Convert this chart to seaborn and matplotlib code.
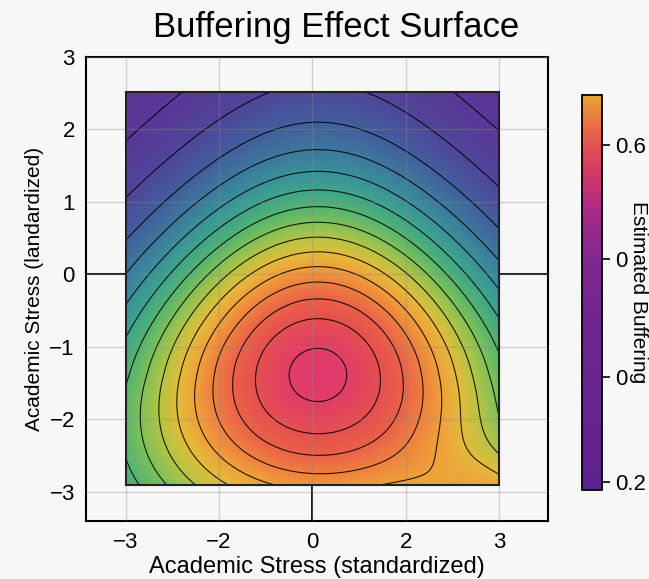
import numpy as np
import seaborn as sns
import matplotlib
matplotlib.use("Agg")
from matplotlib import pyplot as plt
from matplotlib.colors import LinearSegmentedColormap, Normalize
from matplotlib.patches import Rectangle
from matplotlib.cm import ScalarMappable

# tick positions / labels (x axis is evenly spaced, labels are not)
x_tick_pos = [-3, -1.5, 0, 1.5, 3]
x_tick_labels = ["\u22123", "\u22122", "0", "2", "3"]
y_ticks = [-3, -2, -1, 0, 1, 2, 3]
y_tick_labels = ["\u22123", "\u22122", "\u22121", "0", "1", "2", "3"]

# colorbar as printed on the chart
cbar_range = [0.19, 0.66]
cbar_ticks = [0.2, 0.325, 0.465, 0.6]
cbar_tick_labels = ["0.2", "0", "0", "0.6"]

# where the surface sits
surf_x = [-3.0, 3.0]
surf_y = [-2.9, 2.52]

# surface shape
peak_x, peak_y = 0.09, -1.37
spread_x = 2.3
spread_x_top_shrink = 0.25
spread_x_bottom_grow = 0.3
spread_y_up, spread_y_down = 1.75, 1.9
shoulder_x, shoulder_y = 3.2, -3.2
shoulder_h = 0.3
shoulder_sx, shoulder_sy = 0.97, 0.5

levels = [0.005, 0.022, 0.072, 0.14, 0.21, 0.28, 0.35, 0.42, 0.49,
          0.56, 0.63, 0.70, 0.77, 0.84, 0.91, 0.98]

surf_colors = ["#5d3396", "#4f479a", "#42609c", "#3d7a9c", "#3a929a", "#3fa58a",
               "#55b470", "#80c058", "#b5c445", "#e2bb3c", "#f0a03a", "#ee8040",
               "#ea6248", "#e6504f", "#df3a6c"]
surf_stops = [0.0, 0.07, 0.14, 0.21, 0.28, 0.35, 0.42, 0.49, 0.56, 0.63, 0.70,
              0.77, 0.84, 0.91, 1.0]
cbar_colors = ["#5e2390", "#6e2590", "#82278f", "#a52a88", "#cc3470", "#e04858",
               "#ea6a45", "#e9a534"]
cbar_stops = [0.0, 0.4, 0.58, 0.7, 0.78, 0.85, 0.92, 1.0]


def surface(u, v):
    du = u - peak_x
    dv = v - peak_y
    sx = np.where(dv > 0, spread_x - spread_x_top_shrink * dv,
                  spread_x - spread_x_bottom_grow * dv)
    sy = np.where(dv > 0, spread_y_up, spread_y_down)
    g = np.exp(-du ** 2 / (2 * sx ** 2) - dv ** 2 / (2 * sy ** 2))
    s = shoulder_h * np.exp(-(u - shoulder_x) ** 2 / (2 * shoulder_sx ** 2)
                            - (v - shoulder_y) ** 2 / (2 * shoulder_sy ** 2))
    return g + s


sns.set_theme(style="whitegrid")
plt.rcParams['font.family'] = ['Liberation Sans', 'DejaVu Sans']
plt.rcParams['axes.unicode_minus'] = True
plt.rcParams['text.color'] = 'black'
plt.rcParams['axes.labelcolor'] = 'black'
plt.rcParams['xtick.color'] = 'black'
plt.rcParams['ytick.color'] = 'black'

fig = plt.figure(figsize=(6.49, 5.79), dpi=100, facecolor="#f7f7f7")
ax = fig.add_axes([0.1325, 0.1002, 0.7119, 0.8014])
ax.set_facecolor("#f7f7f7")

surf_cmap = LinearSegmentedColormap.from_list("surf", list(zip(surf_stops, surf_colors)))
bar_cmap = LinearSegmentedColormap.from_list("bar", list(zip(cbar_stops, cbar_colors)))

U, V = np.meshgrid(np.linspace(surf_x[0], surf_x[1], 300),
                   np.linspace(surf_y[0], surf_y[1], 300))
Z = surface(U, V)

ax.axhline(0, color="black", lw=1.3, zorder=0.5)
ax.vlines(0, -3.4, surf_y[0], color="black", lw=1.3, zorder=0.5)
ax.imshow(Z, extent=[surf_x[0], surf_x[1], surf_y[0], surf_y[1]], origin="lower",
          cmap=surf_cmap, vmin=0, vmax=1, aspect="auto", interpolation="bilinear", zorder=1)
ax.contour(U, V, Z, levels=levels, colors="black", linewidths=0.8, alpha=0.85, zorder=2)
ax.add_patch(Rectangle((surf_x[0], surf_y[0]), surf_x[1] - surf_x[0], surf_y[1] - surf_y[0],
                       fill=False, edgecolor="#222222", lw=1.5, zorder=3))

ax.set_axisbelow(False)
ax.grid(True, color="#888888", alpha=0.35, lw=1.0)
ax.set_xlim(-3.64, 3.79)
ax.set_ylim(-3.4, 3)
ax.set_xticks(x_tick_pos, x_tick_labels, fontsize=16)
ax.set_yticks(y_ticks, y_tick_labels, fontsize=16)
ax.tick_params(length=0, pad=8, colors="black")
for sp in ax.spines.values():
    sp.set_color("black")
    sp.set_linewidth(1.5)

ax.set_xlabel("Academic Stress (standardized)", fontsize=17, labelpad=2)
ax.set_ylabel("Academic Stress (landardized)", fontsize=15, labelpad=4)
fig.text(0.518, 0.952, "Buffering Effect Surface", fontsize=25, ha="center", va="center")

cax = fig.add_axes([0.8968, 0.1537, 0.0308, 0.6823])
cb = fig.colorbar(ScalarMappable(norm=Normalize(*cbar_range), cmap=bar_cmap), cax=cax)
cb.set_ticks(cbar_ticks, labels=cbar_tick_labels)
cb.ax.tick_params(labelsize=16, length=6, width=1.2, color="black")
cb.outline.set_edgecolor("black")
cb.outline.set_linewidth(1.3)
cb.set_label("Estimated Buffering", rotation=270, fontsize=15)
cb.ax.yaxis.set_label_coords(3.3, 0.5)

fig.savefig("out.png", dpi=100, facecolor=fig.get_facecolor())
